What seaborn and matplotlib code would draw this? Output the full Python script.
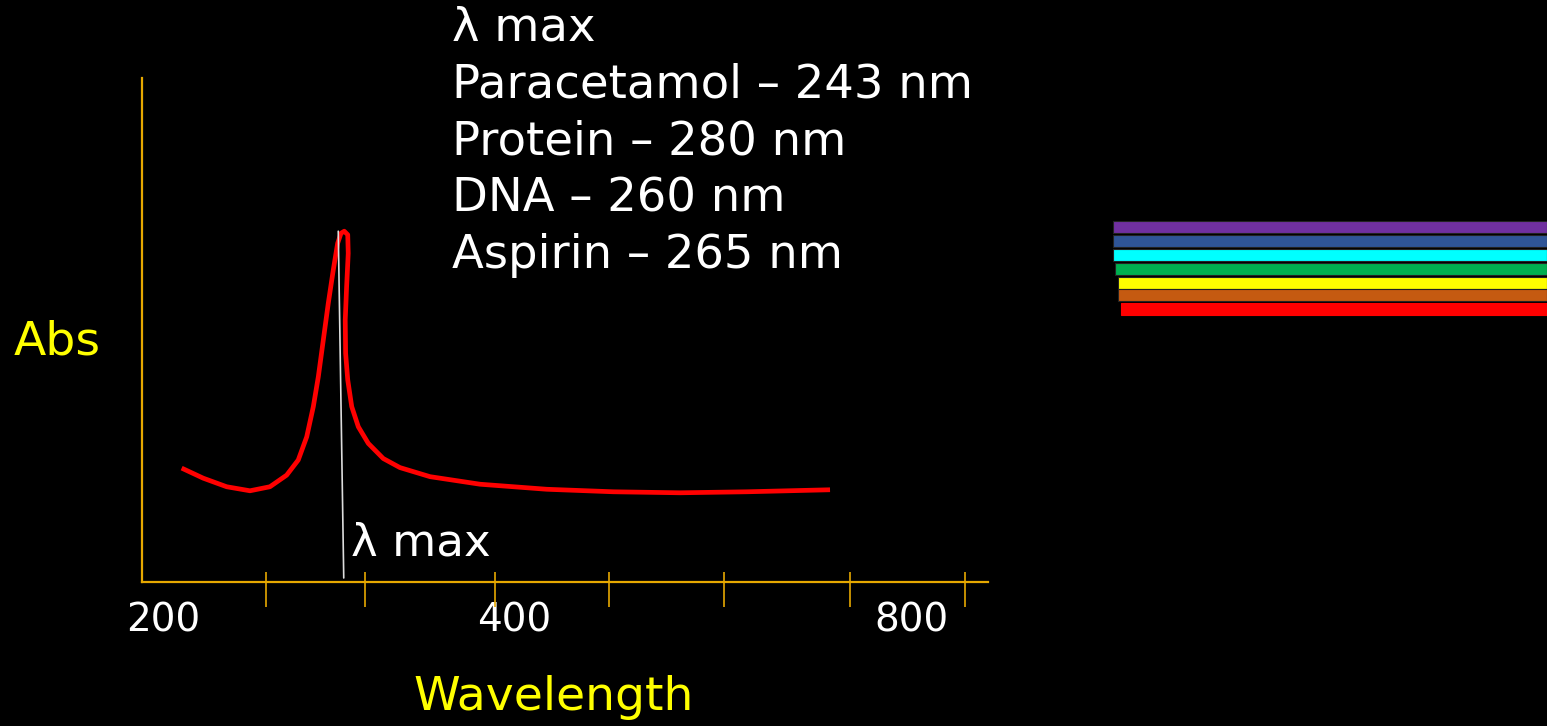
import numpy as np
import pandas as pd
import seaborn as sns
from matplotlib import pyplot as plt

sns.set_theme(style="white", rc={"axes.facecolor": "black", "figure.facecolor": "black"})
plt.rcParams['font.family'] = ['DejaVu Sans']

# absorption curve (arbitrary nm scale, abs 0..1)
wavelength = [215.0, 232.3, 251.1, 269.8, 285.8, 299.2, 308.5, 315.3, 320.6, 324.6,
              328.6, 332.6, 336.6, 340.1, 342.8, 345.4, 348.2, 348.6, 347.3, 346.2,
              346.5, 348.2, 351.4, 356.7, 364.7, 376.7, 390.1, 414.2, 454.3, 507.8,
              561.2, 614.7, 668.2, 735.0]
absorb = [0.226, 0.206, 0.189, 0.181, 0.189, 0.212, 0.242, 0.288, 0.348, 0.407,
          0.480, 0.553, 0.619, 0.672, 0.692, 0.696, 0.689, 0.652, 0.586, 0.520,
          0.454, 0.401, 0.348, 0.308, 0.275, 0.245, 0.227, 0.209, 0.194, 0.184,
          0.179, 0.177, 0.179, 0.183]

lmax_x = [340.6, 345.0]
lmax_y = [0.696, 0.008]

tick_pos = [283, 362, 466, 558, 650, 751, 843]
label_pos = [200, 482, 800]
label_txt = ['200', '400', '800']

lmax_lines = ['λ max', 'Paracetamol – 243 nm', 'Protein – 280 nm', 'DNA – 260 nm', 'Aspirin – 265 nm']

# spectrum strip on the right
band_colors = ['#7030A0', '#2F5597', '#00FFFF', '#00B050', '#FFFF00', '#C55A11', '#FF0000']
band_start = [13, 13, 13, 15, 18, 18, 21]
band_row = [227, 241, 255, 269, 283, 295, 309]

W, H = 1547, 726
fig = plt.figure(figsize=(W / 100, H / 100), dpi=100)

axis_col = '#E6A800'
ax = fig.add_axes([142 / W, (H - 582) / H, 846 / W, 504 / H])
df = pd.DataFrame({'wl': wavelength, 'abs': absorb})
# estimator=None so the overhanging peak isn't averaged away
sns.lineplot(data=df, x='wl', y='abs', sort=False, estimator=None, color='#FF0000',
             lw=3.4, ax=ax, solid_joinstyle='round', solid_capstyle='butt')
ax.plot(lmax_x, lmax_y, color='#DDDDDD', lw=1.2)
ax.set_xlim(183.2, 861.7)
ax.set_ylim(0, 1)
for s in ['top', 'right']:
    ax.spines[s].set_visible(False)
for s in ['left', 'bottom']:
    ax.spines[s].set_color(axis_col)
    ax.spines[s].set_linewidth(1.6)
ax.set_yticks([])
ax.set_xticks(label_pos, label_txt)
ax.tick_params(axis='x', length=0, pad=14, labelsize=28, labelcolor='white')
ax.vlines(tick_pos, -25 / 504, 10 / 504, color=axis_col, lw=1.2,
          transform=ax.get_xaxis_transform(), clip_on=False)
ax.set_xlabel('')
ax.set_ylabel('')
ax.text(350.5, 0.078, 'λ max', color='white', fontsize=32.5, va='center', ha='left')

fig.text(14 / W, 1 - 342 / H, 'Abs', color='#FFFF00', fontsize=34, va='center', ha='left')
fig.text(554 / W, 1 - 697 / H, 'Wavelength', color='#FFFF00', fontsize=34, va='center', ha='center')
for i, t in enumerate(lmax_lines):
    fig.text(452 / W, 1 - (28 + 57 * i) / H, t, color='white', fontsize=33.5, va='center', ha='left')

bx = fig.add_axes([1100 / W, 1 - 320 / H, 447 / W, 105 / H])
bx.set_facecolor('black')
edges = ['#222222'] * 6 + ['#FF0000']
bx.barh(band_row, [447 - s for s in band_start], left=band_start, height=12,
        color=band_colors, edgecolor=edges, lw=0.8)
bx.set_xlim(0, 447)
bx.set_ylim(320, 215)
bx.axis('off')

plt.savefig('out.png', dpi=100, facecolor='black')
